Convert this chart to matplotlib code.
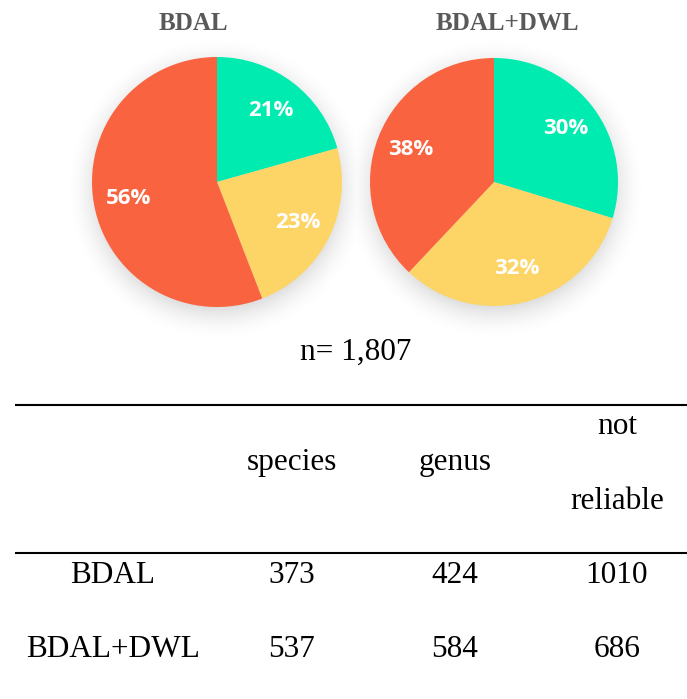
import numpy as np
import matplotlib
matplotlib.use("Agg")
import matplotlib.pyplot as plt

# Identification results per database (counts)
categories = ["species", "genus", "not reliable"]
methods = ["BDAL", "BDAL+DWL"]
bdal_counts = [373, 424, 1010]
bdal_dwl_counts = [537, 584, 686]
total_label = "n= 1,807"

colors = ["#00ebb0", "#fdd567", "#fa633f"]

W, H = 687, 699
fig = plt.figure(figsize=(W / 100, H / 100), dpi=100)

# Background axes in pixel coordinates (origin top-left)
bg = fig.add_axes([0, 0, 1, 1])
bg.set_xlim(0, W)
bg.set_ylim(H, 0)
bg.axis("off")

pies = [
    dict(name=methods[0], values=bdal_counts, cx=217, cy=182, r=125, tx=193),
    dict(name=methods[1], values=bdal_dwl_counts, cx=494, cy=182, r=124, tx=507),
]

# Soft drop shadow under each pie
yy, xx = np.mgrid[0:H, 0:W]
alpha = np.zeros((H, W))
for p in pies:
    d = np.hypot(xx - p["cx"], yy - (p["cy"] + 6))
    t = np.clip(1 - (d - (p["r"] - 8)) / 36.0, 0, 1)
    alpha = np.maximum(alpha, 0.22 * t ** 2)
shadow = np.zeros((H, W, 4))
shadow[..., :3] = 0.35
shadow[..., 3] = alpha
bg.imshow(shadow, extent=(0, W, H, 0), zorder=0, interpolation="bilinear")
bg.set_xlim(0, W)
bg.set_ylim(H, 0)

for p in pies:
    cx, cy, r = p["cx"], p["cy"], p["r"]
    ax = fig.add_axes([(cx - r) / W, 1 - (cy + r) / H, 2 * r / W, 2 * r / H])
    wedges, texts, autotexts = ax.pie(
        p["values"], colors=colors, startangle=90, counterclock=False,
        autopct="%.0f%%", pctdistance=0.72,
        wedgeprops=dict(linewidth=0),
        textprops=dict(color="white", fontsize=16, fontweight="bold",
                       family=["Open Sans", "DejaVu Sans"]),
    )
    for at in autotexts:
        at.set_va("center")
        at.set_ha("center")
    ax.set_xlim(-1, 1)
    ax.set_ylim(-1, 1)
    ax.set_aspect("equal")
    ax.axis("off")
    bg.text(p["tx"], 30, p["name"], ha="center", va="baseline",
            fontsize=18, fontweight="bold", color="#595959",
            family="Liberation Serif")

serif = dict(family="Liberation Serif", fontsize=22.5, color="black",
             ha="center", va="baseline")

bg.text(356, 360, total_label, **serif)

# Table rules
bg.plot([15, W], [405, 405], color="black", lw=1.5, solid_capstyle="butt")
bg.plot([15, W], [553, 553], color="black", lw=1.5, solid_capstyle="butt")

# Column headers
col_x = [292, 455, 617]
bg.text(col_x[0], 470, categories[0], **serif)
bg.text(col_x[1], 470, categories[1], **serif)
first, second = categories[2].split(" ")
bg.text(col_x[2], 434, first, **serif)
bg.text(col_x[2], 509, second, **serif)

# Body rows
row_y = [583, 657]
for y, name, vals in zip(row_y, methods, [bdal_counts, bdal_dwl_counts]):
    bg.text(113, y, name, **serif)
    for x, v in zip(col_x, vals):
        bg.text(x, y, str(v), **serif)

fig.savefig("out.png", dpi=100, facecolor="white")
